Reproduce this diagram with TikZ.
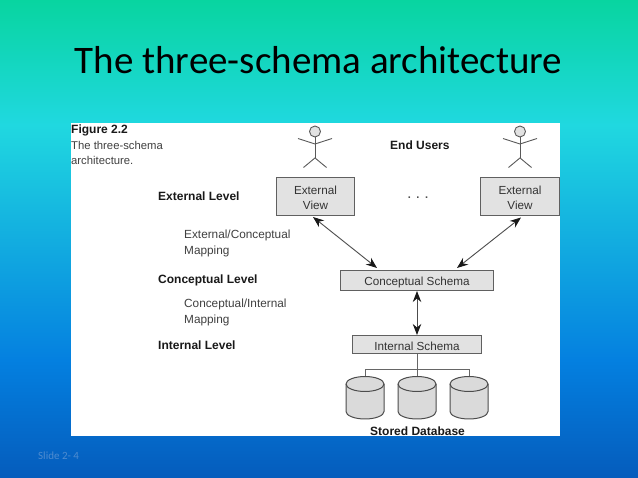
\documentclass[tikz,border=0pt]{standalone}
\usepackage{fontspec}
\setmainfont{Liberation Sans}
\newfontfamily\titlefont{Carlito}
\usetikzlibrary{arrows.meta,shapes.geometric}
\definecolor{bgA}{HTML}{08D5A0}
\definecolor{bgB}{HTML}{20D8E0}
\definecolor{bgC}{HTML}{0480E0}
\definecolor{bgD}{HTML}{055CBC}
\definecolor{boxfill}{HTML}{E2E2E2}
\definecolor{boxline}{HTML}{606060}
\definecolor{cylfill}{HTML}{DADADA}
\definecolor{slidetxt}{HTML}{4F8CD0}
\newcommand{\dropstrut}{\rule{0pt}{11.7pt}}
\tikzset{
  schemabox/.style={draw=boxline,fill=boxfill,line width=1.1pt,inner sep=0pt,align=center,font=\fontsize{11.7}{15.3}\selectfont,text=black!80},
  lbl/.style={inner sep=0pt,align=left,anchor=west,font=\fontsize{11.8}{15.5}\selectfont,text=black!75},
  blbl/.style={inner sep=0pt,align=left,anchor=west,font=\bfseries\fontsize{12}{15}\selectfont,text=black!90},
  conn/.style={draw=black!60,line width=0.9pt},
  biarrow/.style={draw=black!70,line width=0.9pt,{Stealth[length=11pt,width=8.5pt,black!90]}-{Stealth[length=11pt,width=8.5pt,black!90]}},
  stick/.style={draw=black!65,line width=0.9pt},
}
\newcommand{\stickman}[3]{% x y name
  \node[circle,draw=black!65,fill=boxfill,line width=0.9pt,minimum size=11pt,inner sep=0pt] (#3) at (#1,#2) {};
  \draw[stick] (#3.south) -- ++(0,20.5) coordinate (#3hip);
  \draw[stick] (#1-17,#2+7) -- (#1,#2+12.5) -- (#1+17,#2+7);
  \draw[stick] (#1-11.5,#2+36) -- (#3hip) -- (#1+11.5,#2+36);
}
\newcommand{\dbcyl}[2]{% x name
  \path[draw=black!70,fill=cylfill,line width=1pt] (#1-19,384) -- (#1-19,411.5) arc[start angle=180,end angle=0,x radius=19,y radius=7.5] -- (#1+19,384) arc[start angle=0,end angle=-180,x radius=19,y radius=7.5] -- cycle;
  \draw[black!70,line width=1pt] (#1-19,384) arc[start angle=180,end angle=0,x radius=19,y radius=7.5];
  \coordinate (#2) at (#1,376.5);
}
\begin{document}
\begin{tikzpicture}[x=1pt,y=-1pt]
\useasboundingbox (0,0) rectangle (638,478);
\shade[top color=bgA,bottom color=bgB] (0,0) rectangle (638,125.5);
\shade[top color=bgB,bottom color=bgC] (0,125) rectangle (638,360.5);
\shade[top color=bgC,bottom color=bgD] (0,360) rectangle (638,478);
\node[inner sep=0pt,font=\titlefont\fontsize{39}{45}\selectfont,text=black] (title) at (318.5,60) {The three-schema architecture};
\node[inner sep=0pt,font=\titlefont\fontsize{11}{13}\selectfont,text=slidetxt,anchor=west] (slide) at (38,456) {Slide 2- 4};
\fill[white] (71,123) rectangle (560,436);
% captions
\node[blbl,anchor=west] (fig) at (71,130) {Figure 2.2};
\node[lbl,anchor=north west,font=\fontsize{11.3}{15}\selectfont] (cap) at (71,141) {The three-schema\\architecture.};
\node[blbl] (endu) at (390,145.5) {End Users};
\node[blbl] (extl) at (158,196) {External Level};
\node[lbl] (ecm) at (184,243.5) {External/Conceptual\\Mapping};
\node[blbl] (conl) at (158,280.5) {Conceptual Level};
\node[lbl] (cim) at (184,312.5) {Conceptual/Internal\\Mapping};
\node[blbl] (intl) at (158,345) {Internal Level};
\node[blbl] (sdb) at (370,431) {Stored Database};
% boxes
\node[schemabox,minimum width=78pt,minimum height=38pt] (ev1) at (315.5,196.5) {\dropstrut External\\View};
\node[schemabox,minimum width=79pt,minimum height=38pt] (ev2) at (520,196.5) {\dropstrut External\\View};
\node[schemabox,minimum width=153pt,minimum height=20pt] (cs) at (417,280.5) {\dropstrut Conceptual Schema};
\node[schemabox,minimum width=129pt,minimum height=18pt] (is) at (417,344.5) {\dropstrut Internal Schema};
\node[inner sep=0pt,font=\bfseries\fontsize{11}{14}\selectfont,text=black!70] (dots) at (418,198) {.\,\,\,.\,\,\,.};
% people
\stickman{315}{131.5}{p1}
\stickman{520}{131.5}{p2}
% arrows
\coordinate (a1) at (313,217);
\coordinate (a2) at (377,268);
\coordinate (b1) at (521,217.5);
\coordinate (b2) at (457,268);
\draw[biarrow] (a1) -- (a2);
\draw[biarrow] (b1) -- (b2);
\draw[biarrow] (cs.south) -- (is.north);
% cylinders
\dbcyl{365}{d1}
\dbcyl{417}{d2}
\dbcyl{469}{d3}
\coordinate (bus) at (417,369.3);
\draw[conn] (is.south) -- (d2);
\draw[conn] (d1) |- (bus) -| (d3);
\end{tikzpicture}
\end{document}
